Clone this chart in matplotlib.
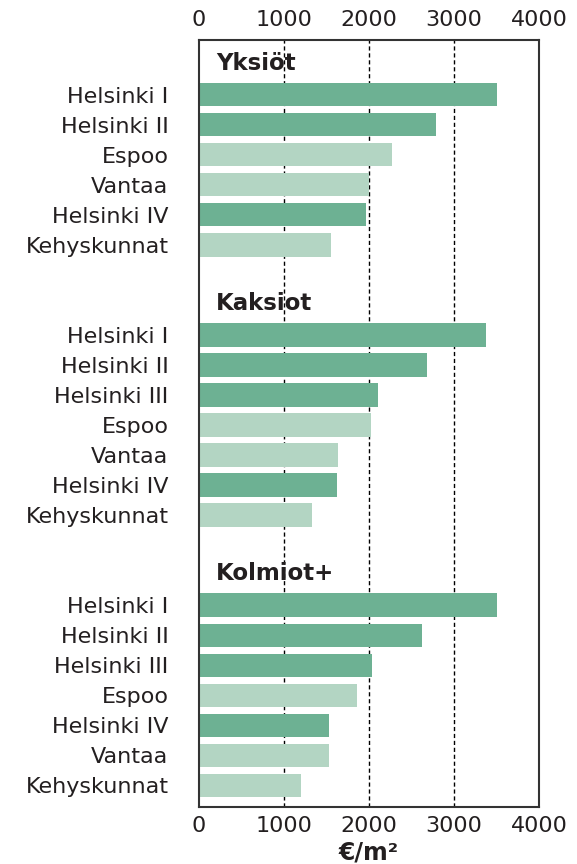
import matplotlib
matplotlib.use("Agg")
import matplotlib.pyplot as plt

groups = ["Yksiöt", "Kaksiot", "Kolmiot+"]
labels_1 = ["Helsinki I", "Helsinki II", "Espoo", "Vantaa", "Helsinki IV", "Kehyskunnat"]
values_1 = [3500, 2785, 2270, 2000, 1965, 1550]
labels_2 = ["Helsinki I", "Helsinki II", "Helsinki III", "Espoo", "Vantaa", "Helsinki IV", "Kehyskunnat"]
values_2 = [3375, 2680, 2100, 2020, 1630, 1620, 1335]
labels_3 = ["Helsinki I", "Helsinki II", "Helsinki III", "Espoo", "Helsinki IV", "Vantaa", "Kehyskunnat"]
values_3 = [3500, 2620, 2035, 1860, 1535, 1525, 1200]
xticks = [0, 1000, 2000, 3000, 4000]
xlabel = "€/m²"

dark = "#6db193"
light = "#b3d5c3"
txt = "#231f20"

fig = plt.figure(figsize=(5.77, 8.64), dpi=100)
ax = fig.add_axes([199/577, 1-806.7/864, 340/577, (806.7-40)/864])

ylabels, ypos = [], []
row = -1
for g, labs, vals in zip(groups, [labels_1, labels_2, labels_3], [values_1, values_2, values_3]):
    ax.text(200, row - 0.05, g, fontsize=16.5, fontweight="bold", color=txt, va="center", ha="left")
    row += 1
    for l, v in zip(labs, vals):
        c = dark if l.startswith("Helsinki") else light
        ax.barh(row, v, height=0.77, color=c, zorder=2)
        ylabels.append(l)
        ypos.append(row)
        row += 1
    row += 1

ax.set_ylim(23.72, -1.83)
ax.set_xlim(0, 4000)
ax.set_yticks(ypos)
ax.set_yticklabels(ylabels, fontsize=16, color=txt)
ax.set_xticks(xticks)
ax.set_xticklabels([str(t) for t in xticks], fontsize=16, color=txt)
ax.tick_params(axis="y", length=0, pad=22)
ax.tick_params(axis="x", length=0, pad=7, top=True, labeltop=True)
for t in [1000, 2000, 3000]:
    ax.axvline(t, color="black", lw=1, ls=(0, (3, 2)), zorder=1)
for s in ax.spines.values():
    s.set_color("#333333")
    s.set_linewidth(1.5)
ax.set_xlabel(xlabel, fontsize=17, fontweight="bold", color=txt, labelpad=3)

fig.savefig("out.png", dpi=100)
